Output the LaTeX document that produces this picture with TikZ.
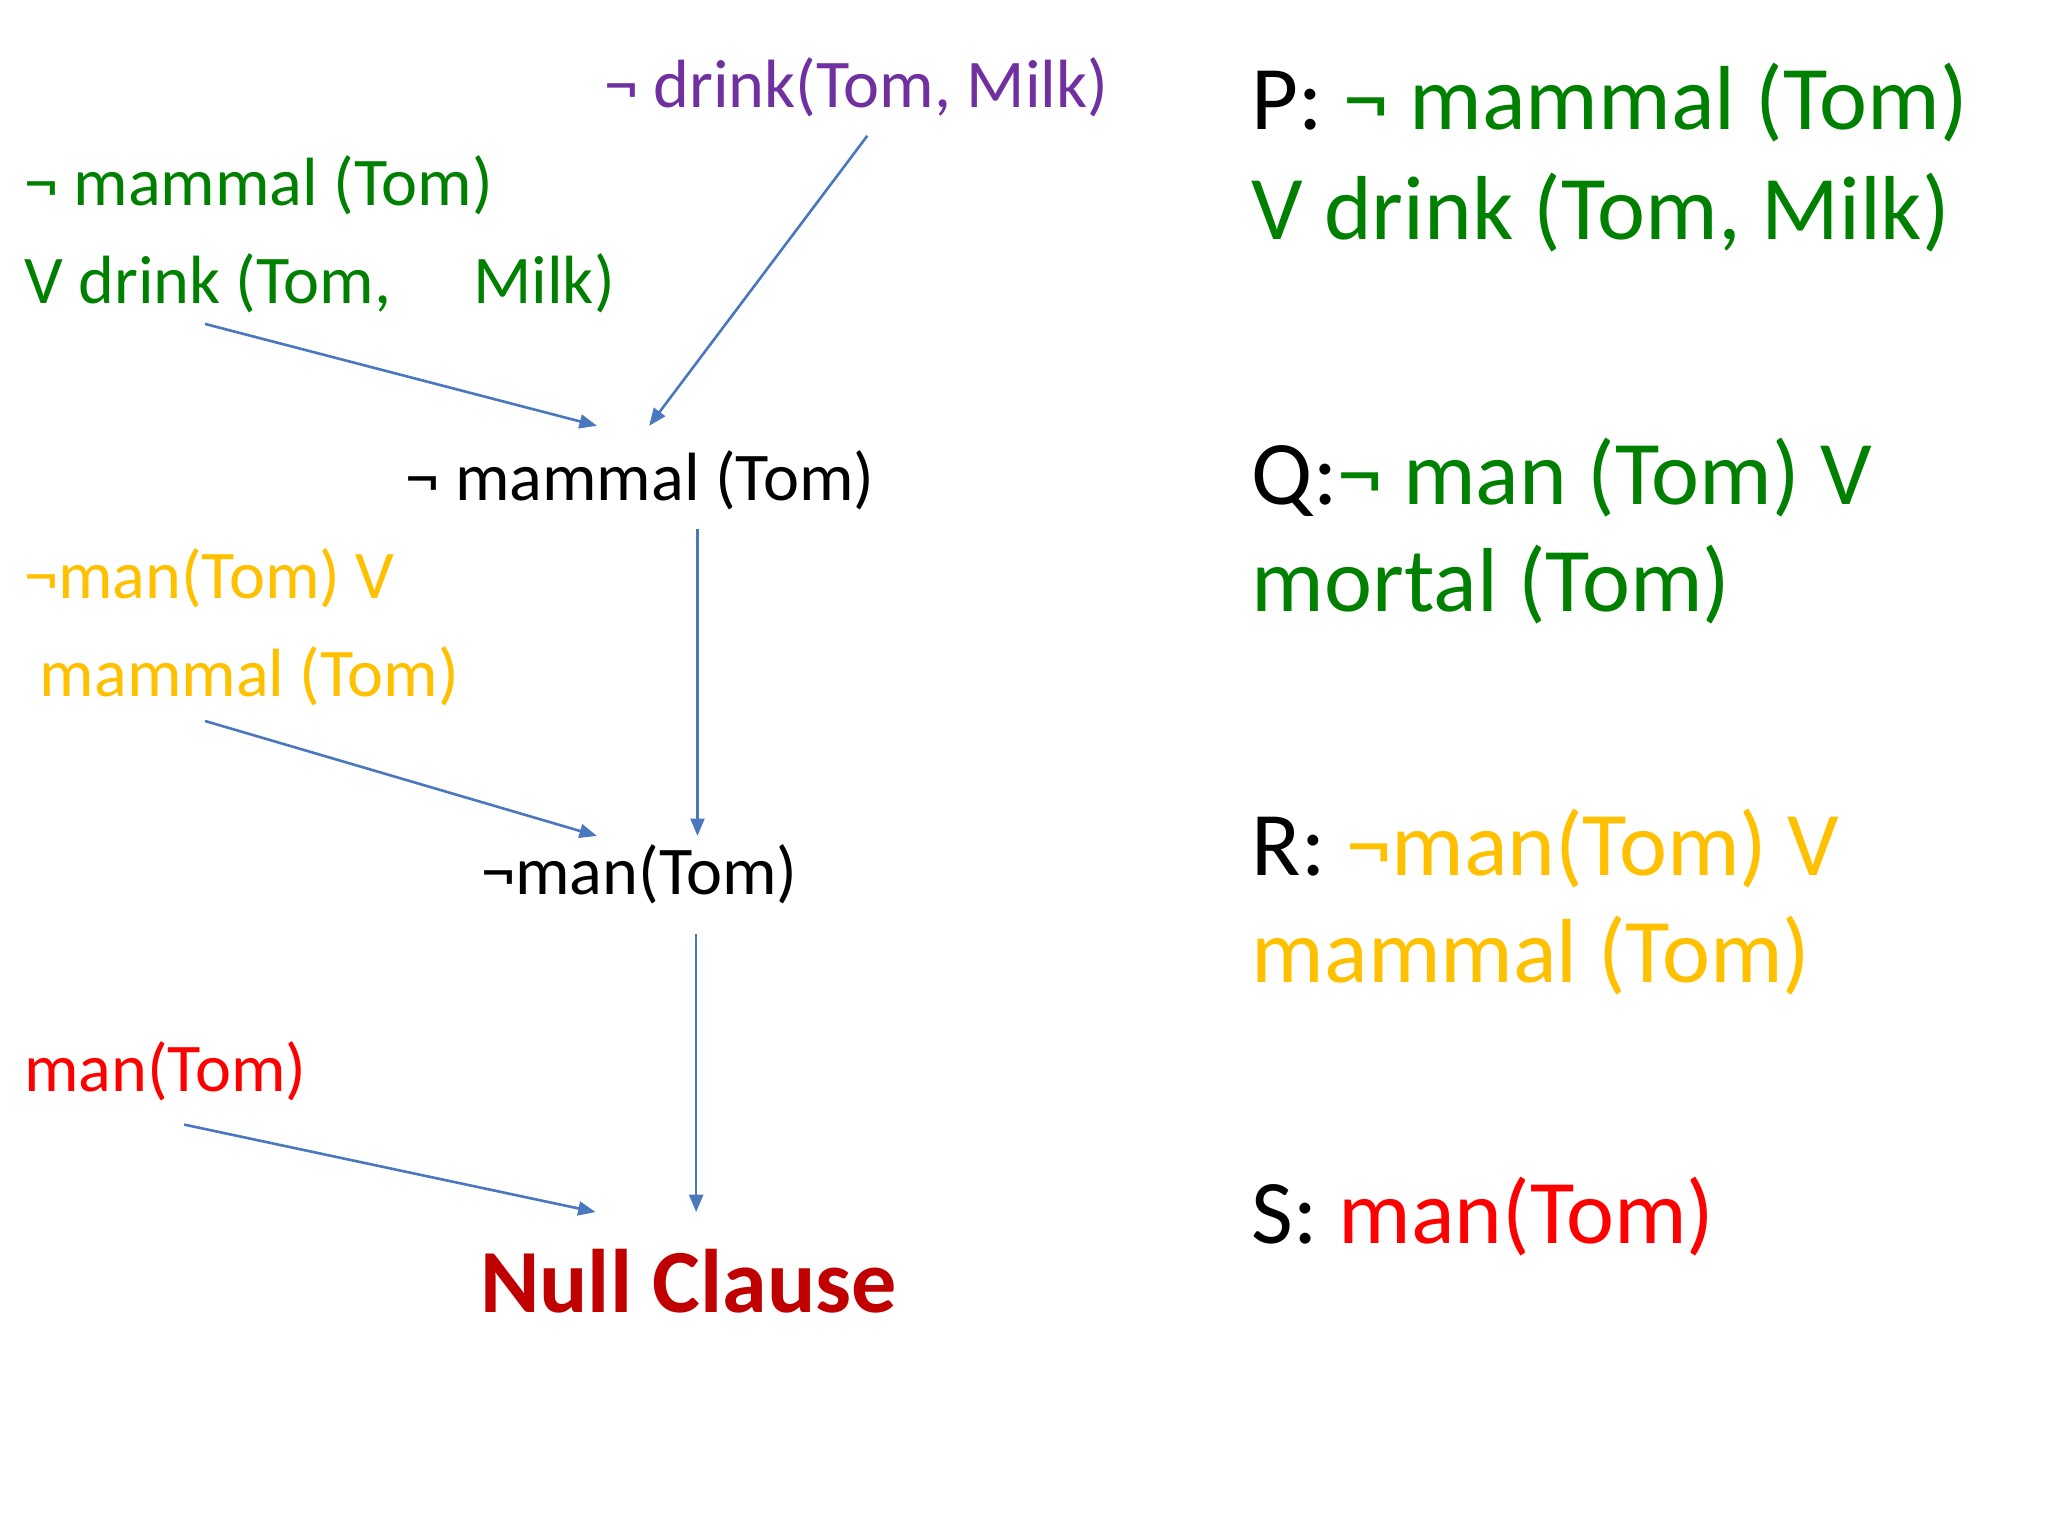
\documentclass[tikz,border=0pt]{standalone}
\usepackage{fontspec}
\setmainfont{Carlito}
\usetikzlibrary{arrows.meta}
\definecolor{cgreen}{HTML}{008000}
\definecolor{cpurple}{HTML}{7030A0}
\definecolor{cgold}{HTML}{FFC000}
\definecolor{cred}{HTML}{FF0000}
\definecolor{cdred}{HTML}{C00000}
\definecolor{cblue}{HTML}{4A78BE}
\tikzset{
  small/.style={inner sep=0pt, anchor=base west, font=\fontsize{19.6pt}{23pt}\selectfont},
  big/.style={inner sep=0pt, anchor=base west, font=\fontsize{26.1pt}{31pt}\selectfont},
  conn/.style={draw=cblue, line width=0.75pt, -{Triangle[length=5pt,width=4pt]}}
}
\begin{document}
\begin{tikzpicture}[x=0.375pt,y=-0.375pt]
\useasboundingbox[fill=white] (0,0) rectangle (1568,1176);
% left clauses
\node[small, text=cpurple] (d) at (462,82) {¬ drink(Tom, Milk)};
\node[small, text=cgreen] (p1) at (18,157) {¬ mammal (Tom)};
\node[small, text=cgreen] (p2) at (18,232) {V drink (Tom,\hspace{1.2em}Milk)};
\node[small] (m) at (310,383) {¬ mammal (Tom)};
\node[small, text=cgold] (r1) at (18,458) {¬man(Tom) V};
\node[small, text=cgold] (r2) at (30,533) {mammal (Tom)};
\node[small] (n) at (368,685) {¬man(Tom)};
\node[small, text=cred] (s) at (18,836) {man(Tom)};
\node[big, font=\fontsize{25.9pt}{31pt}\selectfont\bfseries, text=cdred] (nc) at (367,1005) {Null Clause};
% right list
\node[big] (P1) at (958,99) {P: \textcolor{cgreen}{¬ mammal (Tom)}};
\node[big, text=cgreen] (P2) at (958,183) {V drink (Tom, Milk)};
\node[big] (Q1) at (958,386) {Q:\textcolor{cgreen}{¬ man (Tom) V}};
\node[big, text=cgreen] (Q2) at (958,468) {mortal (Tom)};
\node[big] (R1) at (958,670) {R: \textcolor{cgold}{¬man(Tom) V}};
\node[big, text=cgold] (R2) at (958,752) {mammal (Tom)};
\node[big] (S1) at (958,952) {S: \textcolor{cred}{man(Tom)}};
% connector endpoints
\coordinate (a1s) at (157,248);
\coordinate (a1e) at (457,326);
\coordinate (a2s) at (664,104);
\coordinate (a2e) at (497,326);
\coordinate (v1s) at (534,405);
\coordinate (v1e) at (534,640);
\coordinate (a3s) at (157,552);
\coordinate (a3e) at (457,640);
\coordinate (v2s) at (533,715);
\coordinate (v2e) at (533,928);
\coordinate (a4s) at (141,861);
\coordinate (a4e) at (456,928);
\draw[conn] (a1s) -- (a1e);
\draw[conn] (a2s) -- (a2e);
\draw[conn] (v1s) -- (v1e);
\draw[conn] (a3s) -- (a3e);
\draw[conn] (v2s) -- (v2e);
\draw[conn] (a4s) -- (a4e);
\end{tikzpicture}
\end{document}
